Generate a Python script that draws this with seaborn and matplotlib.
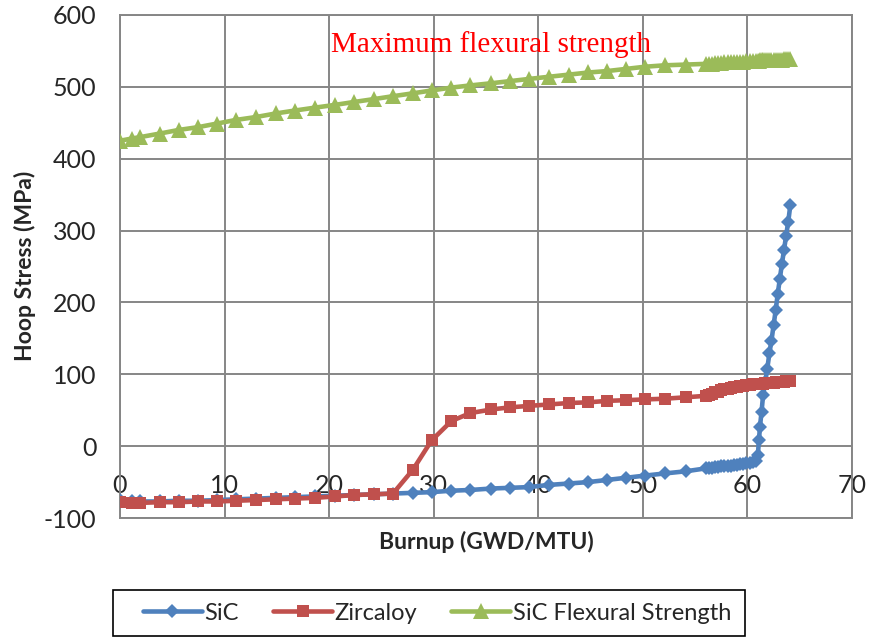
import numpy as np
import pandas as pd
import matplotlib
matplotlib.use('Agg')
import matplotlib.pyplot as plt
from matplotlib.patches import Rectangle
import seaborn as sns

# burnup points (GWD/MTU), shared by all three series
burnup = [0, 1.1, 1.9, 3.8, 5.6, 7.5, 9.3, 11.1, 13.0, 14.9, 16.7, 18.6, 20.6, 22.4, 24.3, 26.1,
          28.0, 29.8, 31.7, 33.5, 35.5, 37.3, 39.1, 41.0, 42.9, 44.8, 46.6, 48.4, 50.2, 52.1, 54.1, 56.0,
          56.3, 56.6, 56.9, 57.2, 57.5, 57.8, 58.1, 58.4, 58.7, 59.0, 59.3, 59.6, 59.9, 60.2, 60.5, 60.8,
          61.0, 61.1, 61.2, 61.35, 61.5, 61.7, 61.9, 62.1, 62.3, 62.5, 62.7, 62.9, 63.1, 63.3, 63.5, 63.7, 63.9, 64.1]

sic = [-75, -77, -77, -77, -76, -76, -75, -74, -73, -72, -71, -70, -69, -68, -67, -66,
       -65, -64, -62, -61, -59, -58, -57, -54, -52, -50, -47, -44, -41, -38, -35, -31,
       -30, -30, -29, -29, -28, -28, -27, -27, -26, -26, -25, -25, -24, -23, -22, -21,
       -12, 8, 27, 48, 71, 89, 108, 129, 147, 168, 189, 212, 233, 254, 273, 293, 312, 335]

zircaloy = [-78, -79, -79, -78, -78, -77, -77, -76, -75, -74, -73, -72, -70, -68, -67, -66,
            -33, 8, 35, 46, 51, 54, 56, 58, 60, 61, 63, 64, 65, 66, 68, 70,
            71, 73, 75, 76, 78, 79, 80, 81, 82, 83, 84, 84, 85, 85, 86, 86,
            86, 87, 87, 87, 87, 88, 88, 88, 88, 88, 89, 89, 89, 89, 89, 90, 90, 90]

flexural = [425, 428, 430, 435, 440, 444, 449, 454, 458, 463, 467, 471, 475, 479, 483, 487,
            491, 495, 499, 502, 505, 508, 511, 514, 517, 520, 522, 525, 528, 530, 531, 532,
            532, 532, 533, 533, 533, 534, 534, 534, 535, 535, 535, 535, 536, 536, 536, 536,
            536, 536, 537, 537, 537, 537, 537, 537, 538, 538, 538, 538, 538, 538, 539, 539, 539, 539]

series_names = ['SiC', 'Zircaloy', 'SiC Flexural Strength']
x_ticks = [0, 10, 20, 30, 40, 50, 60, 70]
y_ticks = [-100, 0, 100, 200, 300, 400, 500, 600]

df = pd.DataFrame({'Burnup': burnup * 3,
                   'Stress': sic + zircaloy + flexural,
                   'Series': np.repeat(series_names, len(burnup))})

sns.set_style('white')
plt.rcParams['font.family'] = ['Lato', 'DejaVu Sans']
plt.rcParams['axes.unicode_minus'] = False

fig = plt.figure(figsize=(8.7, 6.37), dpi=100)
ax = fig.add_axes([120/870, 1-518/637, 732/870, 503/637])

palette = {'SiC': '#4F81BD', 'Zircaloy': '#C0504D', 'SiC Flexural Strength': '#9BBB59'}
markers = {'SiC': 'D', 'Zircaloy': 's', 'SiC Flexural Strength': '^'}
sizes = {'SiC': 7.5, 'Zircaloy': 8, 'SiC Flexural Strength': 12}

for name in series_names:
    sub = df[df['Series'] == name]
    sns.lineplot(data=sub, x='Burnup', y='Stress', ax=ax, sort=False, color=palette[name],
                 marker=markers[name], markersize=sizes[name], markeredgewidth=0,
                 linewidth=3.3, label=name, zorder=3)

ax.set_xlim(0, 70)
ax.set_ylim(-100, 600)
ax.set_xticks(x_ticks)
ax.set_yticks(y_ticks)
ax.grid(True, color='#868686', linewidth=1.4)
for s in ax.spines.values():
    s.set_color('#868686')
    s.set_linewidth(1.4)
ax.spines['bottom'].set_position(('data', 0))
ax.spines['bottom'].set_visible(False)
ax.plot([0, 70], [-100, -100], color='#868686', linewidth=1.4, clip_on=False, zorder=2)
ax.tick_params(axis='both', length=0, labelsize=18)
ax.tick_params(axis='x', pad=20)
ax.tick_params(axis='y', pad=17)
ax.set_xlabel('')
ax.set_ylabel('')

ax.text(35.5, 559, 'Maximum flexural strength', color='red', fontsize=21,
        family='Liberation Serif', ha='center', va='center')

fig.text(486/870, 1-542/637, 'Burnup (GWD/MTU)', fontsize=16.5, fontweight='bold',
         ha='center', va='center')
fig.text(25/870, 1-266/637, 'Hoop Stress (MPa)', fontsize=16.5, fontweight='bold',
         ha='center', va='center', rotation=90)

# legend box drawn separately to get Excel-like wide side padding
fig.patches.append(Rectangle((113/870, 1-636/637), 632/870, 46/637, transform=fig.transFigure,
                             fill=False, edgecolor='black', linewidth=1.2))
ax.legend_.remove()
handles, labels = ax.get_legend_handles_labels()
fig.legend(handles, labels, loc='center', bbox_to_anchor=(437/870, 1-613/637), ncol=3,
           frameon=False, fontsize=17, handlelength=2.5, handletextpad=0.1,
           columnspacing=1.45, borderpad=0.2)

fig.savefig('out.png', dpi=100)
